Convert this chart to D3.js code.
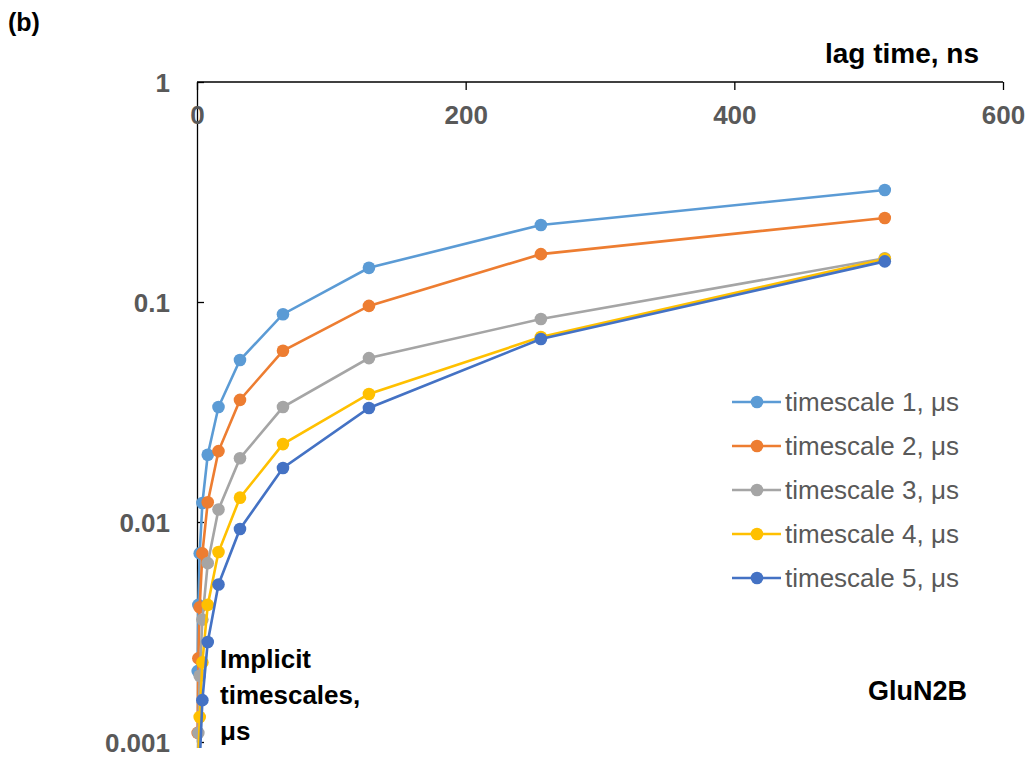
<!DOCTYPE html>
<html lang="en">
<head>
  <meta charset="UTF-8">
  <title>Implicit timescales GluN2B</title>
  <style>
    body { margin: 0; background: #fff; }
    svg text { font-family: "Liberation Sans", Arial, sans-serif; }
    .axis text { font-size: 26px; font-weight: bold; fill: #595959; }
    .axis path, .axis line { stroke: #000; stroke-width: 1.3; fill: none; }
    .legend text { font-size: 26px; fill: #595959; }
  </style>
</head>
<body>
  <svg class="chart"></svg>
  <script src="https://cdn.jsdelivr.net/npm/d3@7"></script>
  <script>
    // lag times in ns (x), implied timescales in us (y)
    var lagTimes = [0.5, 1, 2, 4, 8, 16, 32, 64, 128, 256, 512];
    var seriesNames = ["timescale 1, \u03bcs", "timescale 2, \u03bcs", "timescale 3, \u03bcs",
                       "timescale 4, \u03bcs", "timescale 5, \u03bcs"];
    var ts1 = [0.0021, 0.0042, 0.0072, 0.0122, 0.0202, 0.0333, 0.0545, 0.088, 0.143, 0.224, 0.323];
    var ts2 = [0.0011, 0.0024, 0.0041, 0.0072, 0.0123, 0.021, 0.0359, 0.06, 0.096, 0.165, 0.241];
    var ts3 = [0.0008, 0.0011, 0.002, 0.0036, 0.0065, 0.0114, 0.0195, 0.0333, 0.0556, 0.0837, 0.158];
    var ts4 = [null, 0.0008, 0.0013, 0.0023, 0.0042, 0.0073, 0.0129, 0.0226, 0.0382, 0.0693, 0.157];
    var ts5 = [null, null, 0.0008, 0.00155, 0.00285, 0.0052, 0.0093, 0.0176, 0.033, 0.0679, 0.153];
    var xTicks = [0, 200, 400, 600];
    var yTicks = [0.001, 0.01, 0.1, 1];
    var colors = ["#5B9BD5", "#ED7D31", "#A5A5A5", "#FFC000", "#4472C4"];

    var allSeries = [ts1, ts2, ts3, ts4, ts5];

    var width = 1027, height = 758;
    var plot = {left: 197, right: 1003, top: 82, bottom: 742};

    var svg = d3.select(".chart")
      .attr("width", width)
      .attr("height", height);

    var x = d3.scaleLinear().domain([0, 600]).range([plot.left, plot.right]);
    var y = d3.scaleLog().domain([0.001, 1]).range([plot.bottom, plot.top]);

    svg.append("defs").append("clipPath").attr("id", "clip")
      .append("rect")
      .attr("x", plot.left - 10).attr("y", plot.top)
      .attr("width", plot.right - plot.left + 20)
      .attr("height", plot.bottom - plot.top + 6);

    // y axis (ticks pointing into plot)
    var yAxis = svg.append("g")
      .attr("class", "y axis")
      .attr("transform", "translate(" + plot.left + ",0)")
      .call(d3.axisRight(y).tickValues(yTicks).tickSize(7).tickSizeOuter(0)
        .tickFormat(function(d) { return d >= 1 ? "1" : d3.format("")(d); }));
    yAxis.selectAll("text")
      .attr("x", -27)
      .attr("dy", "0.35em")
      .style("text-anchor", "end");

    // x axis along the top
    var xAxis = svg.append("g")
      .attr("class", "x axis")
      .attr("transform", "translate(0," + plot.top + ")")
      .call(d3.axisBottom(x).tickValues(xTicks).tickSize(8).tickSizeOuter(0)
        .tickFormat(d3.format("d")));
    xAxis.selectAll("text").attr("y", 24);
    xAxis.select(".domain").attr("d", "M" + plot.left + ",0H" + plot.right);

    var line = d3.line()
      .defined(function(d) { return d[1] != null; })
      .x(function(d) { return x(d[0]); })
      .y(function(d) { return y(d[1]); });

    var plotArea = svg.append("g").attr("clip-path", "url(#clip)");

    allSeries.forEach(function(vals, i) {
      var pts = lagTimes.map(function(t, j) { return [t, vals[j]]; });
      var g = plotArea.append("g");
      g.append("path")
        .datum(pts)
        .attr("fill", "none")
        .attr("stroke", colors[i])
        .attr("stroke-width", 2.6)
        .attr("d", line);
      g.selectAll("circle")
        .data(pts.filter(function(d) { return d[1] != null; }))
        .enter().append("circle")
        .attr("cx", function(d) { return x(d[0]); })
        .attr("cy", function(d) { return y(d[1]); })
        .attr("r", 6.3)
        .attr("fill", colors[i]);
    });

    // legend
    var legend = svg.append("g").attr("class", "legend")
      .selectAll("g")
      .data(seriesNames)
      .enter().append("g")
      .attr("transform", function(d, i) { return "translate(732," + (402 + i * 44) + ")"; });
    legend.append("line")
      .attr("x1", 0).attr("x2", 49)
      .attr("stroke", function(d, i) { return colors[i]; })
      .attr("stroke-width", 2.6);
    legend.append("circle")
      .attr("cx", 25).attr("r", 6.3)
      .attr("fill", function(d, i) { return colors[i]; });
    legend.append("text")
      .attr("x", 53).attr("dy", "0.35em")
      .text(function(d) { return d; });

    // labels
    svg.append("text").attr("x", 8).attr("y", 31)
      .style("font-size", "25px").style("font-weight", "bold").text("(b)");
    svg.append("text").attr("x", 979).attr("y", 63)
      .style("font-size", "28px").style("font-weight", "bold")
      .style("text-anchor", "end").text("lag time, ns");
    var impl = svg.append("text")
      .style("font-size", "26px").style("font-weight", "bold");
    ["Implicit", "timescales,", "\u03bcs"].forEach(function(s, i) {
      impl.append("tspan").attr("x", 220).attr("y", 668 + i * 36).text(s);
    });
    svg.append("text").attr("x", 967).attr("y", 700)
      .style("font-size", "27px").style("font-weight", "bold")
      .style("text-anchor", "end").text("GluN2B");
  </script>
</body>
</html>
